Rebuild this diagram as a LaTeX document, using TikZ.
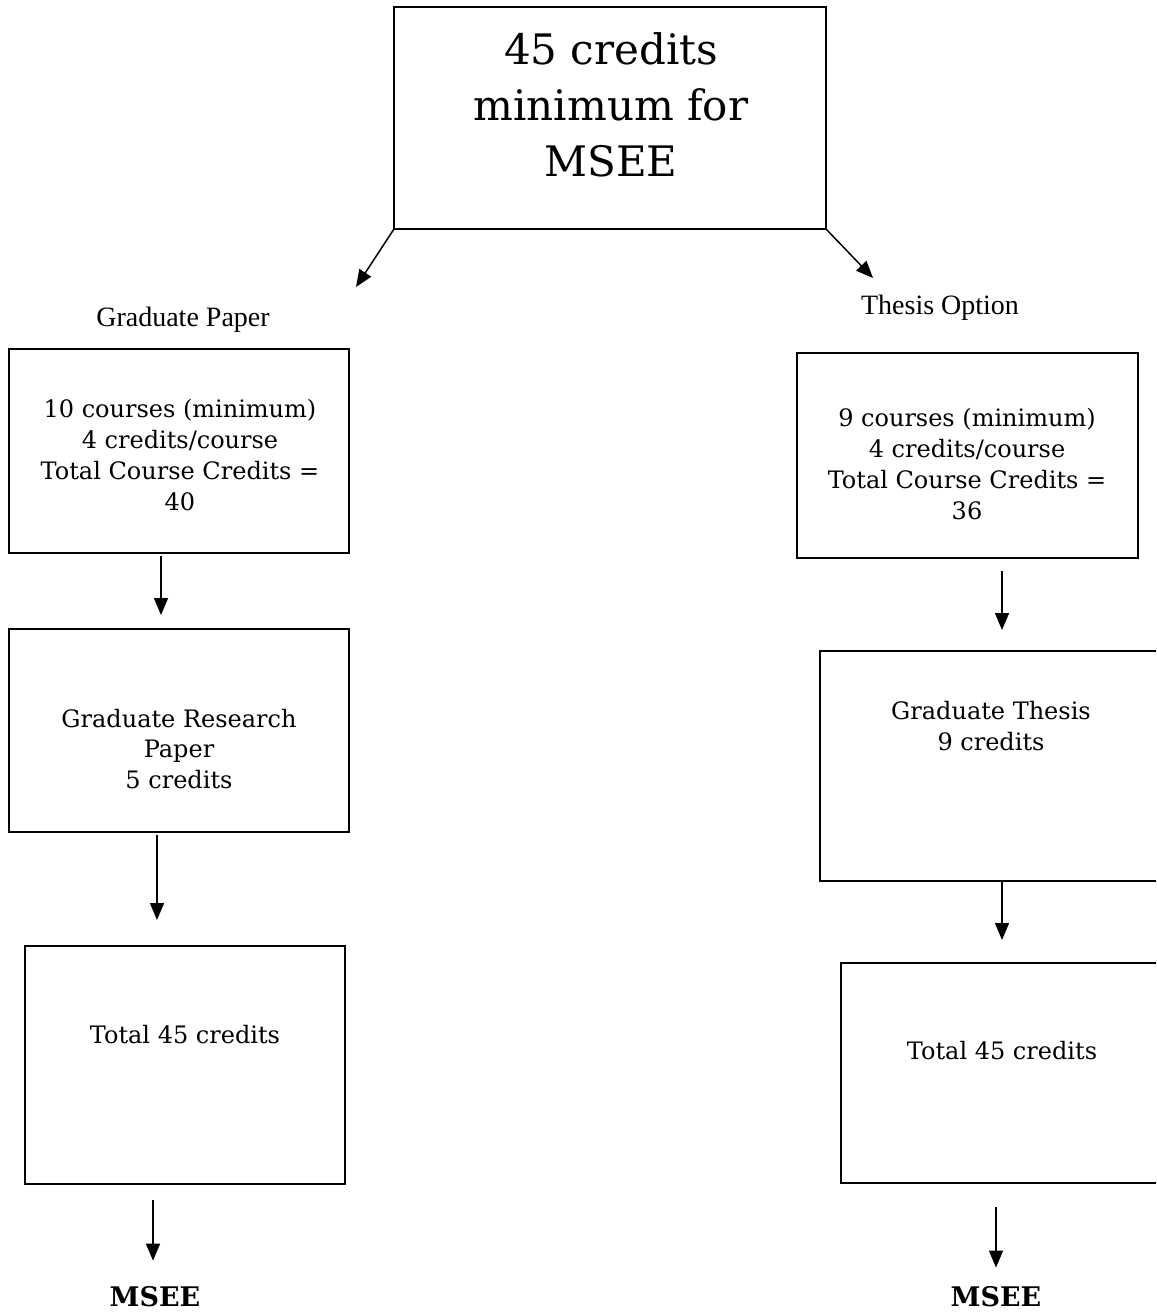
\documentclass[tikz,border=0pt]{standalone}
\usepackage{fontspec}
\setmainfont{DejaVu Serif}
\newfontfamily\labfont{Liberation Serif}
\usetikzlibrary{arrows.meta}
\begin{document}
\begin{tikzpicture}[x=1pt,y=-1pt,
  box/.style={draw,line width=1.9pt,inner sep=0pt,outer sep=0pt,anchor=north west},
  txt/.style={align=center,font=\fontsize{24}{30.7}\selectfont,inner sep=0pt},
  lab/.style={font=\labfont\fontsize{28}{30}\selectfont,inner sep=0pt},
  fin/.style={font=\bfseries\fontsize{27}{32}\selectfont,inner sep=0pt},
  arr/.style={line width=1.5pt,-{Triangle[length=17pt,width=14pt]}}]
\clip (0,0) rectangle (1156,1313);
\fill[white] (0,0) rectangle (1156,1313);
% top
\node[box,minimum width=432pt,minimum height=222pt] (top) at (394,7) {};
\node[txt,font=\fontsize{42}{56}\selectfont] (toptxt) at (611,105) {45 credits\\minimum for\\MSEE};
\coordinate (la) at (356,287);
\coordinate (ra) at (873,278);
\draw[arr] (top.south west) -- (la);
\draw[arr] (top.south east) -- (ra);
\node[lab] (gp) at (183,320) {Graduate Paper};
\node[lab] (to) at (940,308) {Thesis Option};
% left column
\node[box,minimum width=340pt,minimum height=204pt] (l1) at (9,349) {};
\node[txt] (l1t) at (180,455) {10 courses (minimum)\\4 credits/course\\Total Course Credits =\\40};
\node[box,minimum width=340pt,minimum height=203pt] (l2) at (9,629) {};
\node[txt] (l2t) at (179,749) {Graduate Research\\Paper\\5 credits};
\node[box,minimum width=320pt,minimum height=238pt] (l3) at (25,946) {};
\node[txt] (l3t) at (185,1035) {Total 45 credits};
\node[fin] (lm) at (155,1297) {MSEE};
\draw[arr] ([xshift=-18pt,yshift=-3pt]l1.south) -- ([xshift=-18pt,yshift=14pt]l2.north);
\draw[arr] ([xshift=-22pt,yshift=-3pt]l2.south) -- ([xshift=-28pt,yshift=26pt]l3.north);
\draw[arr] ([xshift=-32pt,yshift=-16pt]l3.south) -- ([xshift=-2pt,yshift=26pt]lm.north);
% right column
\node[box,minimum width=341pt,minimum height=205pt] (r1) at (797,353) {};
\node[txt] (r1t) at (967,464) {9 courses (minimum)\\4 credits/course\\Total Course Credits =\\36};
\node[box,minimum width=360pt,minimum height=230pt] (r2) at (820,651) {};
\node[txt] (r2t) at (991,726) {Graduate Thesis\\9 credits};
\node[box,minimum width=340pt,minimum height=220pt] (r3) at (841,963) {};
\node[txt] (r3t) at (1002,1051) {Total 45 credits};
\node[fin] (rm) at (996,1297) {MSEE};
\draw[arr] ([xshift=34.5pt,yshift=-13pt]r1.south) -- ([xshift=2pt,yshift=21pt]r2.north);
\draw[arr] ([xshift=2pt,yshift=-1pt]r2.south) -- ([xshift=-9pt,yshift=23pt]r3.north);
\draw[arr] ([xshift=-15pt,yshift=-24pt]r3.south) -- ([yshift=19pt]rm.north);
\end{tikzpicture}
\end{document}
